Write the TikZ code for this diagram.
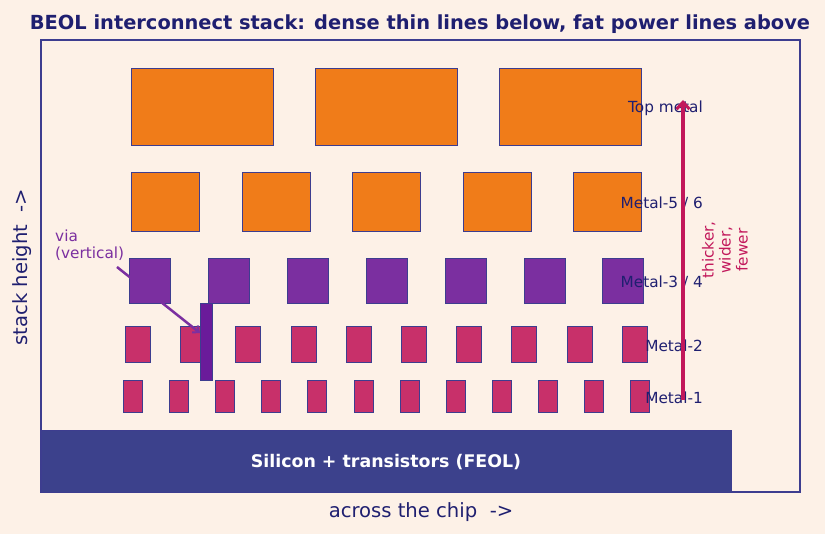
\documentclass[tikz,border=0pt]{standalone}
\usepackage{fontspec}
\setmainfont{DejaVu Sans}
\usetikzlibrary{arrows.meta}
\definecolor{bg}{HTML}{FDF1E7}
\definecolor{navy}{HTML}{1F1F70}
\definecolor{frame}{HTML}{3D3D8F}
\definecolor{feol}{HTML}{3C418C}
\definecolor{topm}{HTML}{F07C19}
\definecolor{midm}{HTML}{7B2FA0}
\definecolor{lowm}{HTML}{C8306A}
\definecolor{viac}{HTML}{6A1B9A}
\definecolor{arr}{HTML}{C2185B}
\tikzset{
  metal/.style={draw=frame, line width=0.8pt},
  lbl/.style={anchor=east, text=navy, font=\fontsize{15.3}{18}\selectfont, inner sep=0pt},
}
\begin{document}
\begin{tikzpicture}[x=1pt,y=-1pt]
\fill[bg] (0,0) rectangle (825,534);
\useasboundingbox (0,0) rectangle (825,534);
\node[text=navy, font=\bfseries\fontsize{19.4}{23}\selectfont] (title) at (420,24) {BEOL interconnect stack: dense thin lines below, fat power lines above};
\node[draw=frame, line width=1.2pt, minimum width=759pt, minimum height=452pt, inner sep=0pt] (frm) at (420.5,266) {};
% top metal
\foreach \x [count=\i] in {131,315,499} {
  \node[metal, fill=topm, minimum width=142pt, minimum height=77pt, inner sep=0pt, anchor=north west] (t\i) at (\x,68) {};
}
% metal 5/6
\foreach \i in {0,...,4} {
  \node[metal, fill=topm, minimum width=68pt, minimum height=59pt, inner sep=0pt, anchor=north west] (m5\i) at ({131+110.5*\i},172) {};
}
% metal 3/4
\foreach \i in {0,...,6} {
  \node[metal, fill=midm, minimum width=41pt, minimum height=45pt, inner sep=0pt, anchor=north west] (m3\i) at ({129+78.9*\i},258) {};
}
% metal 2
\foreach \i in {0,...,9} {
  \node[metal, fill=lowm, minimum width=25pt, minimum height=36pt, inner sep=0pt, anchor=north west] (m2\i) at ({125+55.2*\i},326) {};
}
% metal 1
\foreach \i in {0,...,11} {
  \node[metal, fill=lowm, minimum width=19pt, minimum height=32pt, inner sep=0pt, anchor=north west] (m1\i) at ({123+46.1*\i},380) {};
}
% via
\node[draw=frame, line width=1.2pt, fill=viac, minimum width=12pt, minimum height=77pt, inner sep=0pt, anchor=north west] (via) at (200,303) {};
% FEOL
\node[draw=frame, line width=1.2pt, fill=feol, minimum width=690pt, minimum height=62pt, inner sep=0pt, anchor=north west] (feol) at (41,430) {};
\node[text=white, font=\bfseries\fontsize{17.4}{20}\selectfont] (feoltxt) at (386,462) {Silicon + transistors (FEOL)};
% labels
\node[lbl] (ltop) at (703,108) {Top metal};
\node[lbl] (l56) at (703,203) {Metal-5 / 6};
\node[lbl] (l34) at (703,282) {Metal-3 / 4};
\node[lbl] (l2) at (703,346) {Metal-2};
\node[lbl] (l1) at (703,398) {Metal-1};
% big arrow
\coordinate (abot) at (683,400);
\coordinate (atop) at (683,100);
\draw[arr, line width=3.5pt, -{Straight Barb[length=7pt,width=13pt,line width=3pt]}] (abot) -- (atop);
\node[rotate=90, text=arr, font=\fontsize{15.3}{17}\selectfont, align=center, inner sep=0pt] (thk) at (725,250) {thicker,\\wider,\\fewer};
% via label
\node[text=midm, font=\fontsize{15.3}{17}\selectfont, align=left, anchor=north west, inner sep=0pt] (vialbl) at (55,230) {via\\(vertical)};
\coordinate (vstart) at (117,267);
\draw[midm, line width=2.5pt, -{Straight Barb[length=5pt,width=9pt,line width=2pt]}] (vstart) -- (via.west |- 0,333);
% axis labels
\node[text=navy, font=\fontsize{19.6}{23}\selectfont] (xl) at (421,512) {across the chip\ \ ->};
\node[text=navy, font=\fontsize{19.6}{23}\selectfont, rotate=90] (yl) at (22,267) {stack height\ \ ->};
\end{tikzpicture}
\end{document}
